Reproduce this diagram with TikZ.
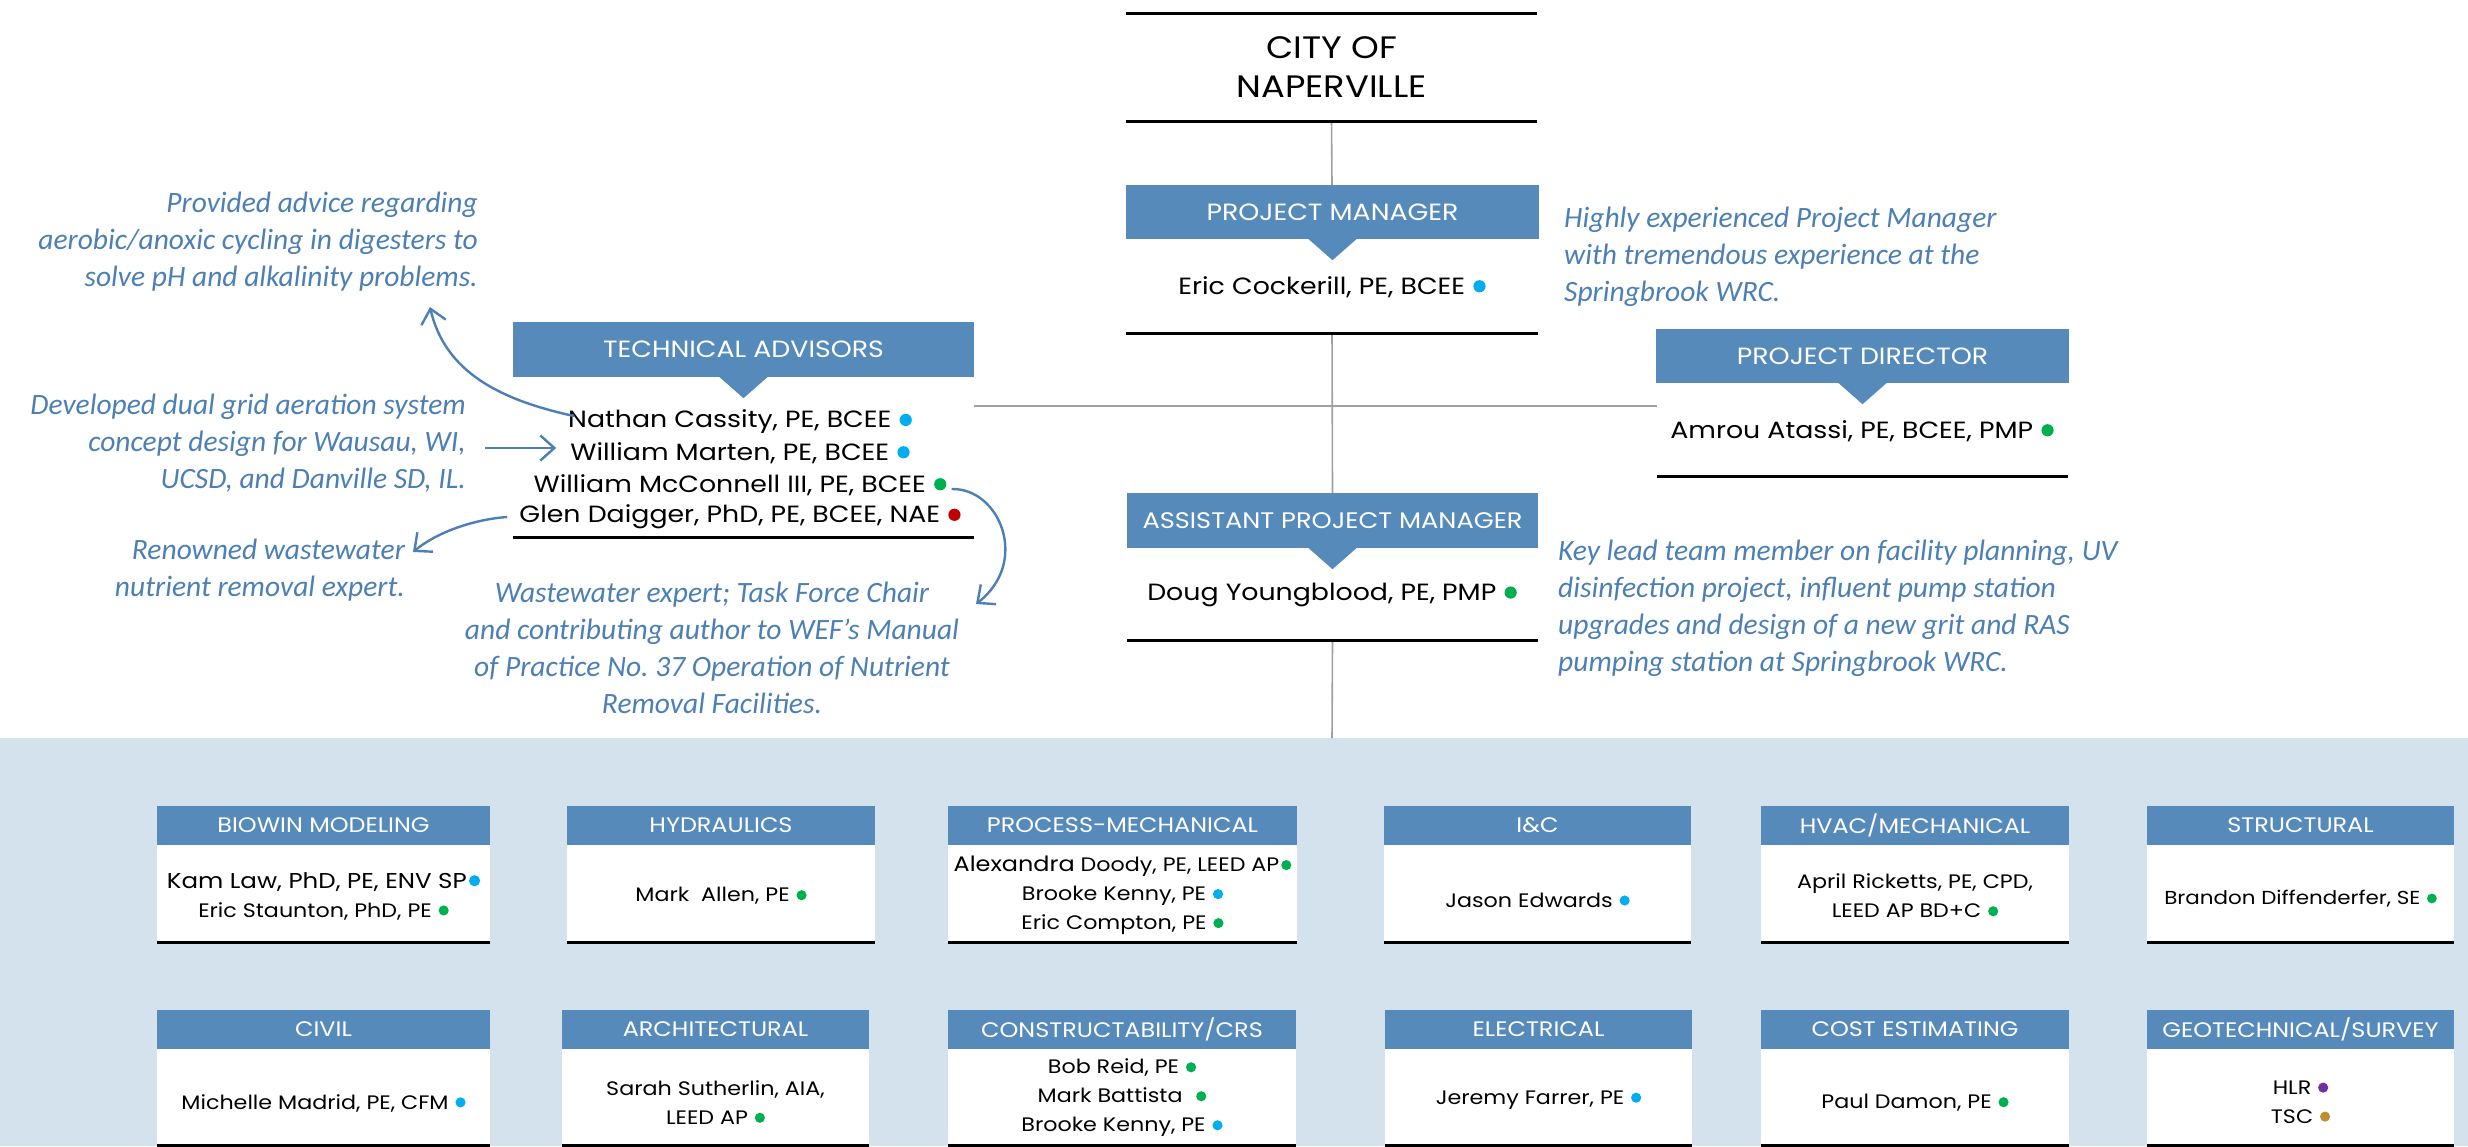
\documentclass[tikz,border=0pt]{standalone}
\usepackage{fontspec}
\setmainfont{Poppins}[FakeStretch=1.14]
\newfontfamily\handfont{Carlito}
\usetikzlibrary{arrows.meta,calc}

\definecolor{hdrblue}{RGB}{85,138,186}
\definecolor{noteblue}{RGB}{76,127,181}
\definecolor{bandblue}{RGB}{212,226,237}
\definecolor{dotblue}{RGB}{0,174,239}
\definecolor{dotgreen}{RGB}{0,176,80}
\definecolor{dotred}{RGB}{192,0,0}
\definecolor{dotpurple}{RGB}{112,48,160}
\definecolor{dotgold}{RGB}{191,143,51}
\definecolor{linegray}{RGB}{160,160,160}

% coloured affiliation dot after a name
\newcommand\pdot[2][0.35em]{\hspace{#1}\tikz[x=1pt,y=1pt,baseline=-0.34em]\fill[#2] (0,0) circle (0.26em);}

% blue pointer under a title bar
\newcommand\pointer[1]{\fill[hdrblue] ($(#1.south)+(-25,-1)$) -- ($(#1.south)+(25,-1)$) -- ($(#1.south)+(0,21)$) -- cycle;}

% discipline card: #1 name, #2 centre x, #3 width, #4 title centre y,
% #5 body height, #6 title, #7 names, #8 names centre y
\newcommand\unitcard[8]{%
  \node[unithead, minimum width=#3pt, minimum height=39pt] (#1h) at (#2,#4) {#6};
  \node[unitbody, minimum width=#3pt, minimum height=#5pt, anchor=north] (#1b) at (#1h.south) {};
  \draw[rulel] (#1b.south west) -- (#1b.south east);
  \node[unitname] (#1n) at (#2,#8) {#7};
}

\begin{document}
\begin{tikzpicture}[x=1pt,y=-1pt,
  frame/.style={inner sep=0pt},
  hdr/.style={fill=hdrblue, text=white, inner sep=0pt, font=\fontsize{23.5}{28}\selectfont},
  rulel/.style={line width=3pt, black},
  conn/.style={draw=linegray, line width=1.6pt},
  note/.style={text=noteblue, inner sep=0pt, font=\handfont\itshape\fontsize{29.5}{37}\selectfont},
  notearrow/.style={draw=noteblue, line width=2.4pt, -{Straight Barb[length=14pt,width=25pt]}},
  person/.style={inner sep=0pt, font=\fontsize{23.5}{30}\selectfont},
  unithead/.style={fill=hdrblue, text=white, inner sep=0pt, font=\fontsize{21}{24}\selectfont},
  unitbody/.style={fill=white, inner sep=0pt},
  unitname/.style={inner sep=0pt, align=center, font=\fontsize{19.5}{29}\selectfont},
]
\useasboundingbox (0,0) rectangle (2468,1146);

% light band behind the disciplines
\fill[bandblue] (0,738) rectangle (2468,1146);

% ---- frames of the leadership blocks
\node[frame, minimum width=410pt, minimum height=107pt, align=center,
      font=\fontsize{31}{39}\selectfont] (city) at (1331.5,67.5) {CITY OF\\NAPERVILLE};
\node[frame, minimum width=411pt, minimum height=148pt] (pmbox) at (1332,259) {};
\node[frame, minimum width=411pt, minimum height=147pt] (pdbox) at (1862.5,402.5) {};
\node[frame, minimum width=411pt, minimum height=147pt] (apmbox) at (1332.5,566.5) {};
\node[frame, minimum width=461pt, minimum height=215pt] (tabox) at (743.5,429.5) {};

% ---- reporting lines
\coordinate (jn) at (1332,406);
\coordinate (bandtop) at (1332,738);
\draw[conn] (city.south) -- (pmbox.north);
\draw[conn] (pmbox.south) -- (apmbox.north);
\draw[conn] (apmbox.south) -- (bandtop);
\draw[conn] (tabox.east |- jn) -- (pdbox.west |- jn);

% ---- city
\draw[rulel] (city.north west) -- (city.north east);
\draw[rulel] (city.south west) -- (city.south east);

% ---- project manager
\node[hdr, minimum width=413pt, minimum height=54pt] (pmh) at (1332.5,212) {PROJECT MANAGER};
\pointer{pmh}
\node[person] (pmn) at (1332,287) {Eric Cockerill, PE, BCEE\pdot{dotblue}};
\draw[rulel] (pmbox.south west) -- (pmbox.south east);

% ---- project director
\node[hdr, minimum width=413pt, minimum height=54pt] (pdh) at (1862.5,356) {PROJECT DIRECTOR};
\pointer{pdh}
\node[person] (pdn) at (1862,431) {Amrou Atassi, PE, BCEE, PMP\pdot{dotgreen}};
\draw[rulel] (pdbox.south west) -- (pdbox.south east);

% ---- assistant project manager
\node[hdr, minimum width=411pt, minimum height=55pt, font=\fontsize{22.5}{28}\selectfont] (apmh) at (1332.5,520.5) {ASSISTANT PROJECT MANAGER};
\pointer{apmh}
\node[person] (apmn) at (1332,595) {Doug Youngblood, PE, PMP\pdot{dotgreen}};
\draw[rulel] (apmbox.south west) -- (apmbox.south east);

% ---- technical advisors
\node[hdr, minimum width=461pt, minimum height=55pt] (tah) at (743.5,349.5) {TECHNICAL ADVISORS};
\pointer{tah}
\node[person] (ta1) at (740,422) {Nathan Cassity, PE, BCEE\pdot{dotblue}};
\node[person] (ta2) at (740,453) {William Marten, PE, BCEE\pdot{dotblue}};
\node[person] (ta3) at (740,485) {William McConnell III, PE, BCEE\pdot{dotgreen}};
\node[person] (ta4) at (740,517) {Glen Daigger, PhD, PE, BCEE, NAE\pdot{dotred}};
\draw[rulel] (tabox.south west) -- (tabox.south east);

% ---- handwritten remarks
\node[note, align=right, anchor=east] (n1) at (478,242)
  {Provided advice regarding\\aerobic/anoxic cycling in digesters to\\solve pH and alkalinity problems.};
\node[note, align=right, anchor=east] (n2) at (466,443)
  {Developed dual grid aeration system\\concept design for Wausau, WI,\\UCSD, and Danville SD, IL.};
\node[note, align=right, anchor=east] (n3) at (405,570)
  {Renowned wastewater\\nutrient removal expert.};
\node[note, align=center] (n4) at (712,648)
  {Wastewater expert; Task Force Chair\\and contributing author to WEF’s Manual\\of Practice No.\ 37 Operation of Nutrient\\Removal Facilities.};
\node[note, align=left, anchor=west] (n5) at (1564,257)
  {Highly experienced Project Manager\\with tremendous experience at the\\Springbrook WRC.};
\node[note, align=left, anchor=west] (n6) at (1558,608)
  {Key lead team member on facility planning, UV\\disinfection project, influent pump station\\upgrades and design of a new grit and RAS\\pumping station at Springbrook WRC.};

\coordinate (tip1) at (430,307);
\coordinate (tip3) at (413,552);
\coordinate (tip4) at (976,604);
\coordinate (a2) at ($(n2.east)+(19,5)$);
\draw[notearrow] ($(ta1.west)+(6,-6)$) .. controls (500,400) and (445,372) .. (tip1);
\draw[notearrow] (a2) -- ($(a2 -| ta2.west)+(-14,0)$);
\draw[notearrow] ($(ta4.west)+(-12,0)$) .. controls (478,519) and (440,530) .. (tip3);
\draw[notearrow] ($(ta3.east)+(5,4)$) .. controls (1000,488) and (1030,562) .. (tip4);

% ---- disciplines, first row
\unitcard{bio}{323.5}{333}{825.5}{97}{BIOWIN MODELING}
  {{\fontsize{21.5}{32}\selectfont Kam Law, PhD, PE, ENV SP\pdot[0.1em]{dotblue}}\\Eric Staunton, PhD, PE\pdot{dotgreen}}{896}
\unitcard{hyd}{721}{308}{825.5}{97}{HYDRAULICS}
  {Mark~ Allen, PE\pdot{dotgreen}}{896}
\unitcard{proc}{1122.5}{349}{825.5}{97}{PROCESS-MECHANICAL}
  {\fontsize{19.5}{28.5}\selectfont{\fontsize{21}{28.5}\selectfont Alexandra} Doody, PE, LEED AP\pdot[0.1em]{dotgreen}\\Brooke Kenny, PE\pdot{dotblue}\\Eric Compton, PE\pdot{dotgreen}}{895.5}
\unitcard{ic}{1537.5}{307}{825.5}{97}{I\&C}
  {Jason Edwards\pdot{dotblue}}{900}
\unitcard{hvac}{1915}{308}{825.5}{97}{HVAC/MECHANICAL}
  {\fontsize{19.5}{25}\selectfont April Ricketts, PE, CPD,\\LEED AP BD+C\pdot{dotgreen}}{896}
\unitcard{str}{2300.5}{307}{825.5}{97}{STRUCTURAL}
  {\fontsize{18.8}{25}\selectfont Brandon Diffenderfer, SE\pdot{dotgreen}}{899}

% ---- disciplines, second row
\unitcard{civ}{323.5}{333}{1029.5}{96}{CIVIL}
  {Michelle Madrid, PE, CFM\pdot{dotblue}}{1103}
\unitcard{arch}{715.5}{307}{1029.5}{96}{ARCHITECTURAL}
  {\fontsize{19.5}{25}\selectfont Sarah Sutherlin, AIA,\\LEED AP\pdot{dotgreen}}{1102.5}
\unitcard{cons}{1122}{348}{1029.5}{96}{CONSTRUCTABILITY/CRS}
  {\fontsize{19.5}{28}\selectfont Bob Reid, PE\pdot{dotgreen}\\Mark Battista\pdot[0.7em]{dotgreen}\\Brooke Kenny, PE\pdot{dotblue}}{1098}
\unitcard{elec}{1538.5}{307}{1029.5}{96}{ELECTRICAL}
  {Jeremy Farrer, PE\pdot{dotblue}}{1100}
\unitcard{cost}{1915}{308}{1029.5}{96}{COST ESTIMATING}
  {Paul Damon, PE\pdot{dotgreen}}{1103}
\unitcard{geo}{2300.5}{307}{1029.5}{96}{GEOTECHNICAL/SURVEY}
  {\fontsize{19.5}{26}\selectfont HLR\pdot{dotpurple}\\TSC\pdot{dotgold}}{1102}
\end{tikzpicture}
\end{document}
